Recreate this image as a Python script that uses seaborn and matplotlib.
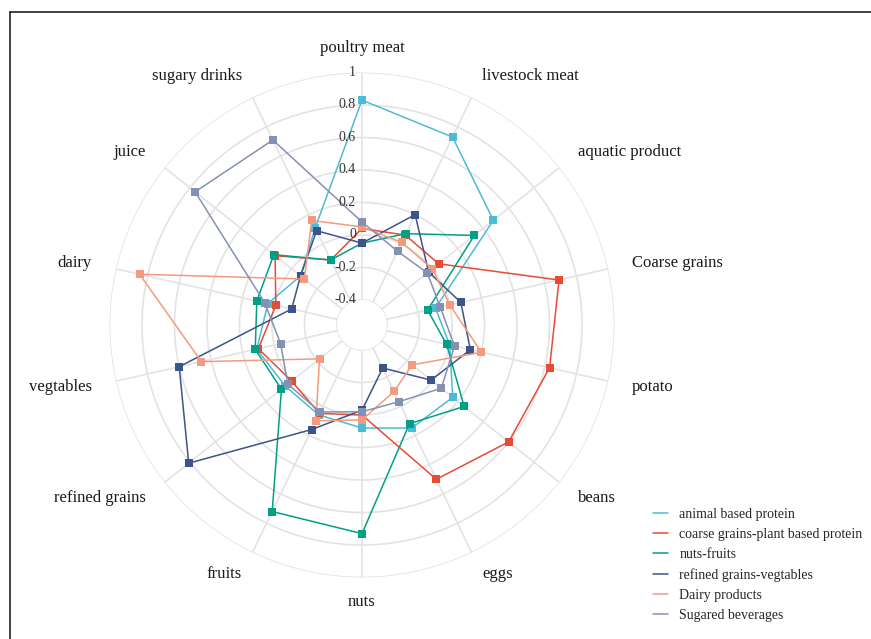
import numpy as np
import pandas as pd
import matplotlib
matplotlib.use("Agg")
import matplotlib.pyplot as plt
from matplotlib.lines import Line2D
from matplotlib.transforms import offset_copy
import seaborn as sns

categories = ["poultry meat", "livestock meat", "aquatic product", "Coarse grains",
              "potato", "beans", "eggs", "nuts", "fruits", "refined grains",
              "vegtables", "dairy", "juice", "sugary drinks"]

animal_protein = [0.83, 0.73, 0.48, -0.09, 0.00, 0.16, 0.15, 0.08, 0.06, 0.05, 0.11, 0.04, -0.07, 0.11]
coarse_plant = [0.04, 0.06, 0.05, 0.69, 0.63, 0.60, 0.50, 0.00, 0.05, 0.00, 0.10, -0.01, 0.13, -0.11]
nuts_fruits = [-0.05, 0.07, 0.33, -0.14, -0.02, 0.25, 0.12, 0.73, 0.72, 0.08, 0.12, 0.11, 0.14, -0.11]
refined_veg = [-0.05, 0.20, -0.03, 0.07, 0.13, -0.01, -0.26, -0.03, 0.16, 0.81, 0.60, -0.11, -0.07, 0.09]
dairy_products = [0.05, 0.01, 0.00, 0.00, 0.20, -0.16, -0.10, 0.03, 0.10, -0.22, 0.46, 0.85, -0.10, 0.16]
sugared_bev = [0.08, -0.05, -0.04, -0.06, 0.03, 0.07, -0.03, -0.02, 0.04, 0.03, -0.04, 0.06, 0.76, 0.71]

series_names = ["animal based protein", "coarse grains-plant based protein", "nuts-fruits",
                "refined grains-vegtables", "Dairy products", "Sugared beverages"]
series_values = [animal_protein, coarse_plant, nuts_fruits, refined_veg, dairy_products, sugared_bev]
colors = ["#4DBBD5", "#E64B35", "#00A087", "#3C5488", "#F39B7F", "#8491B4"]

r_ticks = [-0.4, -0.2, 0, 0.2, 0.4, 0.6, 0.8, 1]
r_tick_labels = ["-0.4", "-0.2", "0", "0.2", "0.4", "0.6", "0.8", "1"]

n = len(categories)
angles = np.arange(n) * 2 * np.pi / n

# long table, each profile closed back onto its first category
rows = []
for name, vals in zip(series_names, series_values):
    for i, v in enumerate(vals + [vals[0]]):
        rows.append({"group": name, "theta": (angles[i] if i < n else 2 * np.pi), "value": v})
df = pd.DataFrame(rows)

sns.set_style("white")
serif = ["Liberation Serif", "DejaVu Serif"]
plt.rcParams["font.family"] = serif

W, H = 871, 639
fig = plt.figure(figsize=(W / 100, H / 100), dpi=100)
cx, cy, R = 362, 325, 252.5
ax = fig.add_axes([(cx - R) / W, (H - cy - R) / H, 2 * R / W, 2 * R / H], projection="polar")
ax.set_theta_zero_location("N")
ax.set_theta_direction(-1)
ax.set_ylim(-0.4, 1)
ax.set_rorigin(-0.554)

grid_col = "#e3e3e3"
ax.set_yticks(r_ticks)
ax.set_yticklabels([])
ax.set_xticks(angles)
ax.set_xticklabels([])
ax.grid(True, color=grid_col, linewidth=1.2)
for key in ("polar", "inner", "start", "end"):
    if key in ax.spines:
        ax.spines[key].set_visible(False)
        ax.spines[key].set_edgecolor("none")
        ax.spines[key].set_linewidth(0)
ax.patch.set_edgecolor("none")
ax.tick_params(length=0)

sns.lineplot(data=df, x="theta", y="value", hue="group", hue_order=series_names,
             palette=colors, sort=False, estimator=None, marker="s", markersize=5.5,
             markeredgewidth=0, linewidth=1.1, legend=False, ax=ax)
ax.set_xlabel("")
ax.set_ylabel("")

# radial tick labels beside the top spoke
lab_tr = offset_copy(ax.transData, fig=fig, x=-6, y=0, units="dots")
for v, s in zip(r_ticks, r_tick_labels):
    ax.text(0, v, s, transform=lab_tr, ha="right", va="center", fontsize=10,
            color="#333333", zorder=10)

# category labels around the rim
r_lab = 1.15
for ang, lab in zip(angles, categories):
    s = np.sin(ang)
    if abs(s) < 0.1:
        ha = "center"
    elif s > 0:
        ha = "left"
    else:
        ha = "right"
    ax.text(ang, r_lab, lab, ha=ha, va="center", fontsize=12, color="#1a1a1a", clip_on=False)

handles = [Line2D([0], [0], color=c, linewidth=1.1) for c in colors]
fig.legend(handles, series_names, loc="upper left", bbox_to_anchor=(653 / W, 1 - 508 / H),
           frameon=False, fontsize=10, handlelength=1.1, handletextpad=0.8,
           labelspacing=0.5, borderpad=0, borderaxespad=0)

# page frame along the top and left edges
fig.add_artist(Line2D([10 / W, 1], [1 - 12 / H, 1 - 12 / H], transform=fig.transFigure,
                      color="#222222", linewidth=1.2))
fig.add_artist(Line2D([10 / W, 10 / W], [0, 1 - 12 / H], transform=fig.transFigure,
                      color="#222222", linewidth=1.2))

fig.savefig("out.png", dpi=100, facecolor="white")
